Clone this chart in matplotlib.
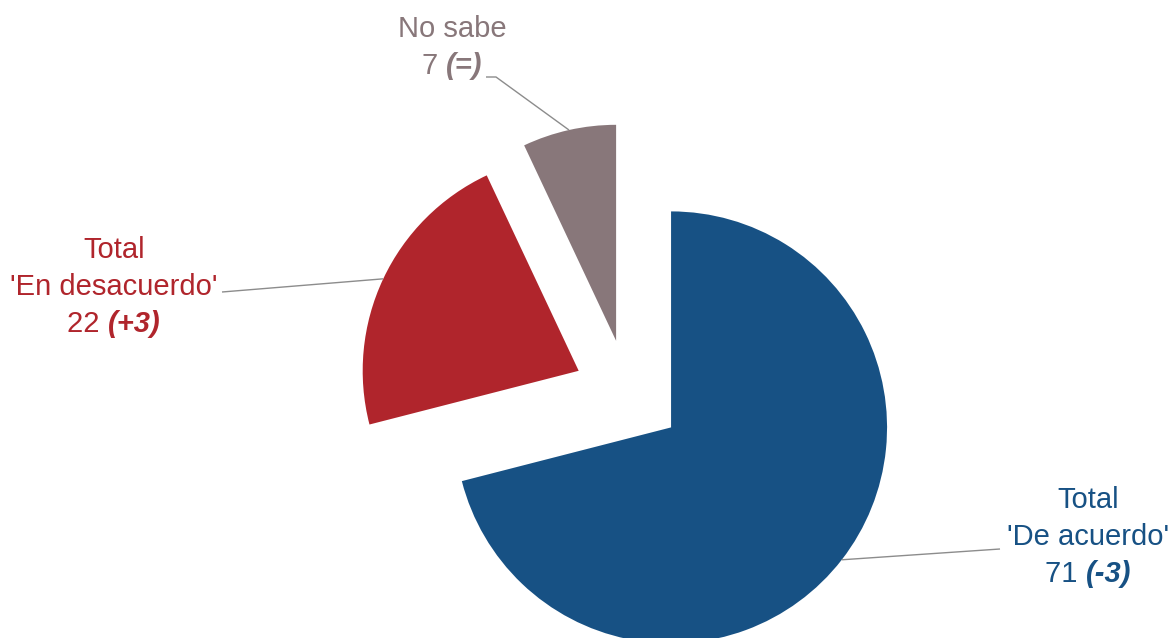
import math
import matplotlib
matplotlib.use("Agg")
import matplotlib.pyplot as plt

W, H = 1173, 638

# data
categories = ["Total\n'De acuerdo'", "Total\n'En desacuerdo'", "No sabe"]
values = [71, 22, 7]
changes = ["(-3)", "(+3)", "(=)"]
colors = ["#175184", "#B0252C", "#88777A"]

# label layout (pixel coords, top-left origin): centre x, baseline of last line
label_pos = [(1088, 582), (114, 332), (452, 74)]
label_elbow = [(1000, 549), (222, 292), (486, 77)]
line_gap = 37

plt.rcParams["font.family"] = ["Liberation Sans", "DejaVu Sans"]
fig = plt.figure(figsize=(W / 100, H / 100), dpi=100)
ax = fig.add_axes([0, 0, 1, 1])

radius = 216
wedges, _ = ax.pie(values, colors=colors, startangle=90, counterclock=False,
                   radius=radius, center=(628, H - 394), explode=[54.5] * 3,
                   wedgeprops=dict(linewidth=0))
for w in wedges:
    w.set_clip_on(True)

# pie() resets the limits, so set them afterwards
ax.set_xlim(0, W)
ax.set_ylim(0, H)
ax.set_aspect("equal")
ax.axis("off")

fig.canvas.draw()
renderer = fig.canvas.get_renderer()
fs = 21

for w, cat, val, chg, col, (lx, lb), (ex, ey) in zip(
        wedges, categories, values, changes, colors, label_pos, label_elbow):
    # leader line from the label to the middle of the wedge arc
    mid = math.radians((w.theta1 + w.theta2) / 2)
    cx, cy = w.center
    px, py = cx + w.r * math.cos(mid), cy + w.r * math.sin(mid)
    if cat == "No sabe":
        xs = [ex, ex + 10, px]
        ys = [H - ey, H - ey, py]
    else:
        xs = [ex, px]
        ys = [H - ey, py]
    ax.plot(xs, ys, color="#8C8C8C", lw=1, solid_capstyle="butt")

    lines = cat.split("\n")
    for i, ln in enumerate(lines):
        yb = lb - line_gap * (len(lines) - i)
        ax.text(lx, H - yb, ln, ha="center", va="baseline", fontsize=fs, color=col)

    # value + bold italic change, centred as a whole
    t1 = ax.text(lx, H - lb, f"{val} ", fontsize=fs, color=col, va="baseline")
    t2 = ax.text(lx, H - lb, chg, fontsize=fs, color=col, va="baseline",
                 fontweight="bold", fontstyle="italic")
    w1 = t1.get_window_extent(renderer).width
    w2 = t2.get_window_extent(renderer).width
    x0 = lx - (w1 + w2) / 2
    t1.set_position((x0, H - lb))
    t2.set_position((x0 + w1, H - lb))

fig.savefig("out.png", dpi=100)
